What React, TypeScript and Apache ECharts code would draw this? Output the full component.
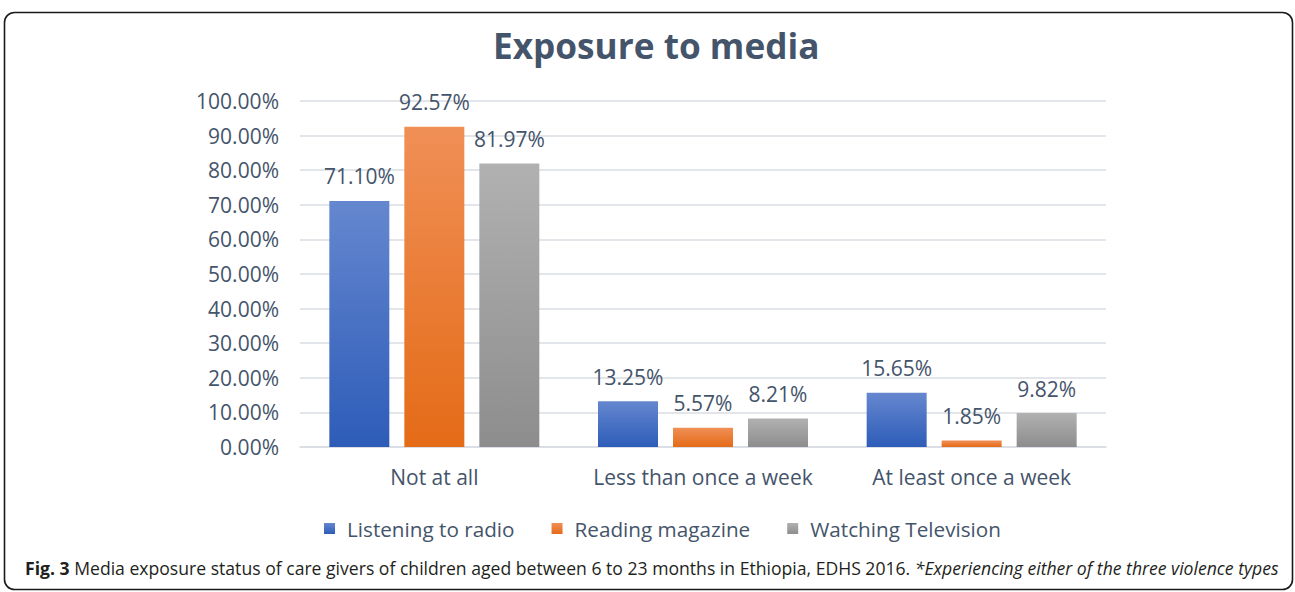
import React, { useEffect, useRef } from "react";
import * as echarts from "echarts";

const categories = ["Not at all", "Less than once a week", "At least once a week"];
const radio = [71.1, 13.25, 15.65];
const magazine = [92.57, 5.57, 1.85];
const television = [81.97, 8.21, 9.82];
const seriesNames = ["Listening to radio", "Reading magazine", "Watching Television"];

const FONT = "'Open Sans', 'Noto Sans', sans-serif";
const TEXT = "#44546a";

const grad = (top: string, bottom: string) =>
  new echarts.graphic.LinearGradient(0, 0, 0, 1, [
    { offset: 0, color: top },
    { offset: 1, color: bottom },
  ]);

export default function App() {
  const ref = useRef<HTMLDivElement>(null);
  useEffect(() => {
    if (!ref.current) return;
    const chart = echarts.init(ref.current, undefined, { renderer: "svg" });
    const label = {
      show: true,
      position: "top",
      distance: 14,
      color: TEXT,
      fontSize: 21,
      fontFamily: FONT,
      formatter: (p: any) => p.value.toFixed(2) + "%",
    };
    const mk = (name: string, data: number[], c: [string, string]) => ({
      name,
      type: "bar",
      data,
      barWidth: 60,
      barGap: "25%",
      itemStyle: { color: grad(c[0], c[1]) },
      label,
    });
    chart.setOption({
      animation: false,
      title: {
        text: "Exposure to media",
        left: 488,
        top: 22,
        textStyle: { fontSize: 35.2, fontWeight: "bold", color: TEXT, fontFamily: FONT },
      },
      grid: { left: 300, right: 189, top: 101, bottom: 145, containLabel: false },
      legend: {
        bottom: 48,
        left: 319,
        itemWidth: 11,
        itemHeight: 11,
        itemGap: 37,
        icon: "rect",
        textStyle: { fontSize: 20.7, color: TEXT, fontFamily: FONT, padding: [0, 0, 0, 7] },
        data: seriesNames,
      },
      xAxis: {
        type: "category",
        data: categories,
        axisTick: { show: false },
        axisLine: { lineStyle: { color: "#d9dce3", width: 1.5 } },
        axisLabel: { fontSize: 21, color: TEXT, fontFamily: FONT, margin: 19, interval: 0 },
      },
      yAxis: {
        type: "value",
        min: 0,
        max: 100,
        interval: 10,
        axisLine: { show: false },
        axisTick: { show: false },
        splitLine: { lineStyle: { color: "#d9dce3", width: 1.5 } },
        axisLabel: {
          fontSize: 21,
          color: TEXT,
          fontFamily: FONT,
          margin: 21,
          formatter: (v: number) => v.toFixed(2) + "%",
        },
      },
      series: [
        mk(seriesNames[0], radio, ["#6587cf", "#2d5cb8"]),
        mk(seriesNames[1], magazine, ["#f08f56", "#e46b17"]),
        mk(seriesNames[2], television, ["#b1b1b1", "#8d8d8d"]),
      ],
      graphic: [
        {
          type: "rect",
          shape: { x: 4.5, y: 12.5, width: 1288, height: 577, r: 10 },
          style: { fill: "none", stroke: "#1a1a1a", lineWidth: 1.6 },
          silent: true,
        },
        {
          type: "text",
          left: 25,
          top: 559,
          style: {
            text:
              "{b|Fig. 3} Media exposure status of care givers of children aged between 6 to 23 months in Ethiopia, EDHS 2016. {i|*Experiencing either of the three violence types}",
            fontSize: 17.6,
            fontFamily: FONT,
            fill: "#231f20",
            rich: {
              b: { fontWeight: "bold", fontSize: 17.6, fontFamily: FONT, fill: "#231f20" },
              i: { fontStyle: "italic", fontSize: 17.6, fontFamily: FONT, fill: "#231f20" },
            },
          },
        },
      ],
    });
    return () => chart.dispose();
  }, []);
  return (
    <div
      ref={ref}
      style={{ position: "fixed", left: 0, top: 0, width: 1295, height: 592, background: "#fff" }}
    />
  );
}
